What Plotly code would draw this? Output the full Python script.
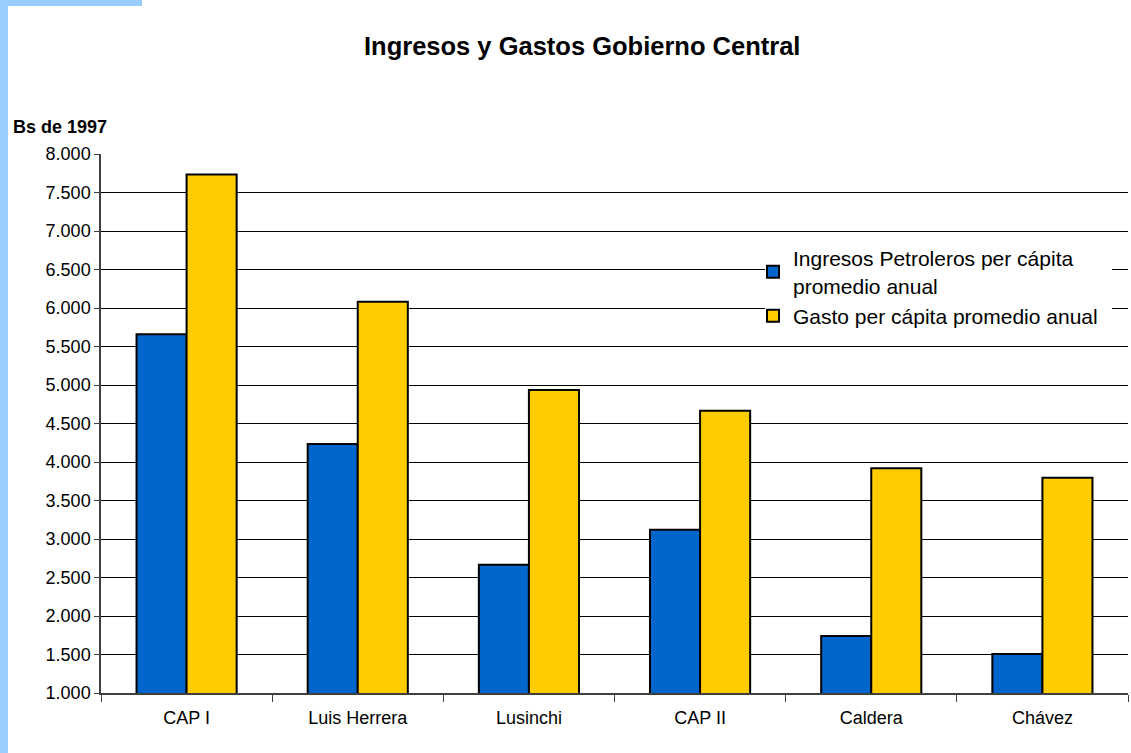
import plotly.graph_objects as go

categories = ["CAP I", "Luis Herrera", "Lusinchi", "CAP II", "Caldera", "Chávez"]
ingresos = [5660, 4235, 2665, 3120, 1740, 1505]
gasto = [7735, 6080, 4935, 4665, 3920, 3795]
series_names = ["Ingresos Petroleros per cápita<br>promedio anual", "Gasto per cápita promedio anual"]
title_text = "Ingresos y Gastos Gobierno Central"
y_label = "Bs de 1997"

W, H = 1131, 753
L, R, T, B = 101, 3, 154, 60
PW, PH = W - L - R, H - T - B

def px(x):
    return (x - L) / PW

def py(y):
    return (H - B - y) / PH

fig = go.Figure()
fig.add_trace(go.Bar(x=categories, y=ingresos, name=series_names[0],
                     marker=dict(color="#0066CC", line=dict(color="black", width=2))))
fig.add_trace(go.Bar(x=categories, y=gasto, name=series_names[1],
                     marker=dict(color="#FFCC00", line=dict(color="black", width=2))))

fig.update_layout(
    width=W, height=H,
    margin=dict(l=L, r=R, t=T, b=B),
    paper_bgcolor="white", plot_bgcolor="white",
    separators=",.",
    barmode="group", bargap=0.415, bargroupgap=0,
    font=dict(family="Arial, Liberation Sans, sans-serif", color="black", size=16),
    showlegend=True,
    legend=dict(x=px(753), y=py(238), xanchor="left", yanchor="top",
                bgcolor="rgba(0,0,0,0)", font=dict(size=21), tracegroupgap=2,
                itemsizing="constant"),
    shapes=[
        dict(type="rect", xref="paper", yref="paper", x0=px(765), x1=px(1112),
             y0=py(345), y1=py(240), fillcolor="white", line=dict(width=0), layer="above"),
        dict(type="rect", xref="paper", yref="paper", x0=px(0), x1=px(8),
             y0=py(H), y1=py(0), fillcolor="#99CCFF", line=dict(width=0), layer="above"),
        dict(type="rect", xref="paper", yref="paper", x0=px(0), x1=px(142),
             y0=py(6), y1=py(0), fillcolor="#99CCFF", line=dict(width=0), layer="above"),
    ],
    annotations=[
        dict(text="<b>" + title_text + "</b>", xref="paper", yref="paper",
             x=px(582), y=py(46), xanchor="center", yanchor="middle",
             showarrow=False, font=dict(size=25.5)),
        dict(text="<b>" + y_label + "</b>", xref="paper", yref="paper",
             x=px(11), y=py(127), xanchor="left", yanchor="middle",
             showarrow=False, font=dict(size=18)),
    ],
)

fig.update_xaxes(type="category", showgrid=False, showline=True, linecolor="#404040", linewidth=1.5,
                 ticks="outside", tickson="boundaries", ticklen=7, tickcolor="#404040",
                 tickfont=dict(size=18), ticklabelstandoff=8)
fig.update_yaxes(range=[1000, 8000], dtick=500, tickformat=",.0f", showgrid=True,
                 gridcolor="black", gridwidth=1, showline=True, linecolor="#404040",
                 linewidth=1.5, ticks="outside", ticklen=5, tickcolor="#404040",
                 tickfont=dict(size=18), zeroline=False)

fig.write_html("out.html")
